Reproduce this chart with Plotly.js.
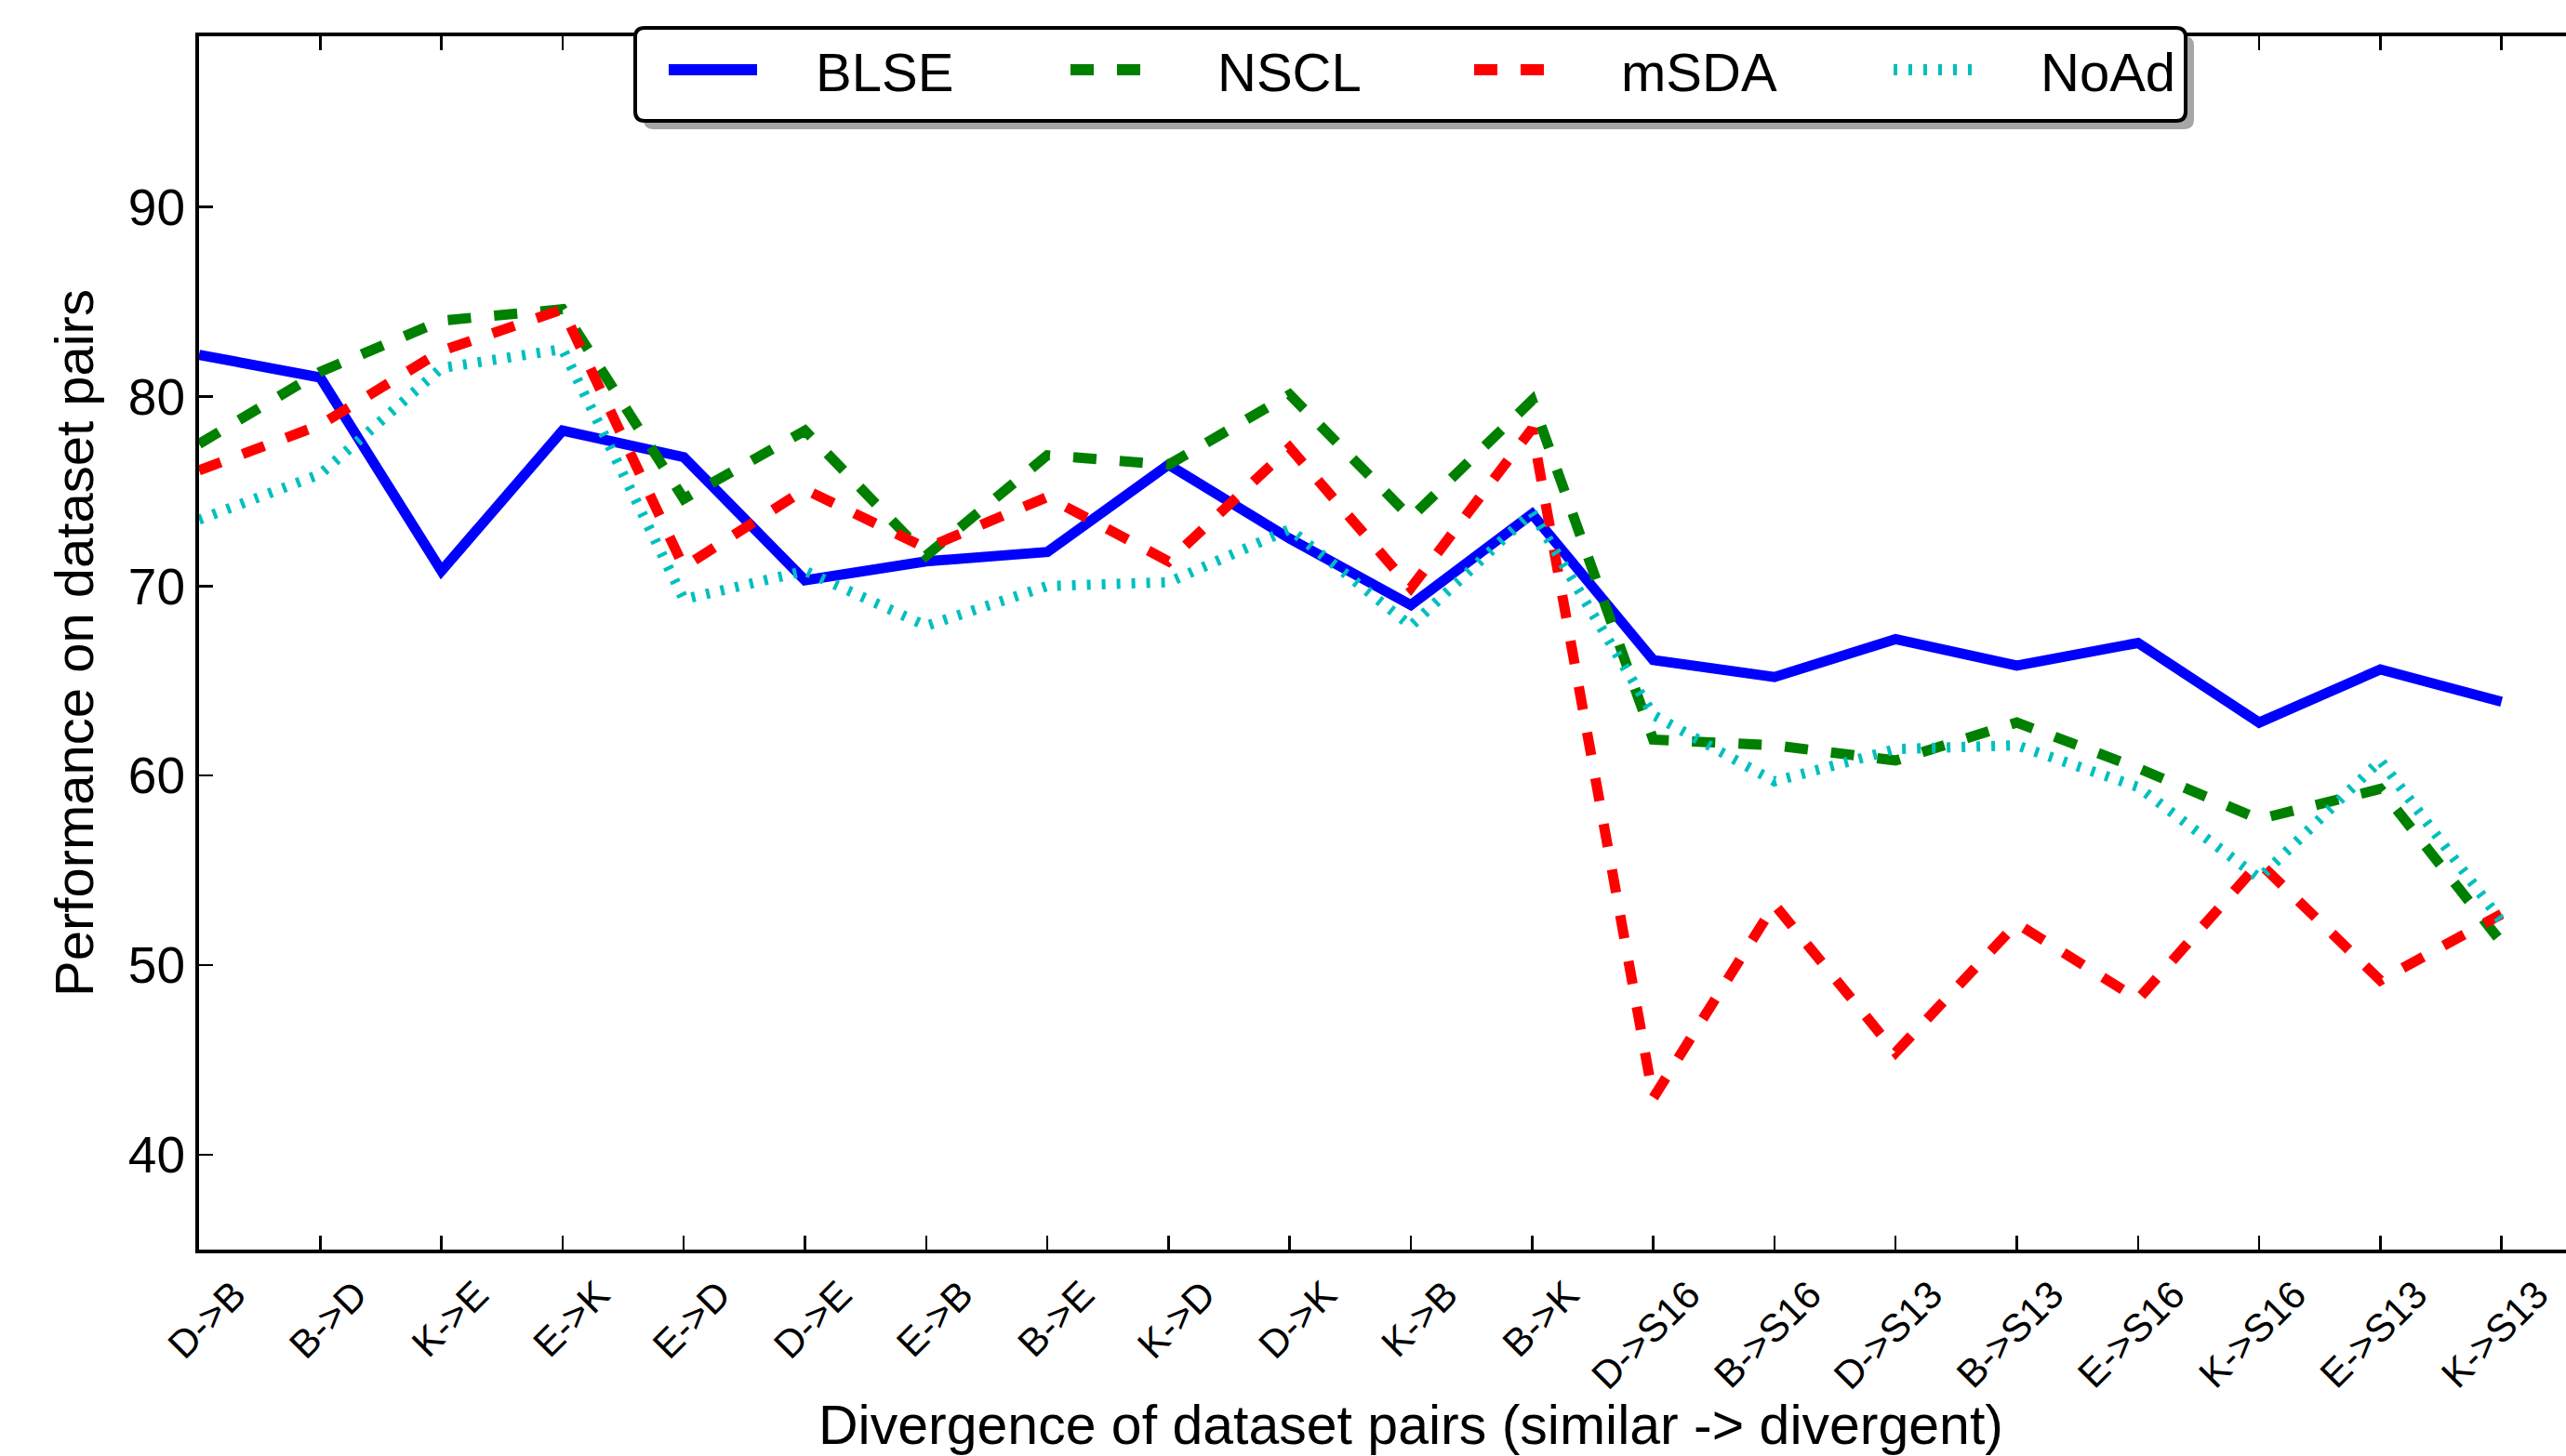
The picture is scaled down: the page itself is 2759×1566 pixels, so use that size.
<!DOCTYPE html>
<html>
<head>
<meta charset="utf-8">
<script src="https://cdn.plot.ly/plotly-3.0.1.min.js"></script>
<style>
  html, body { margin: 0; padding: 0; background: #ffffff; overflow: hidden; }
  #wrap { position: relative; width: 2759px; height: 1566px; overflow: hidden; }
  #chart { position: absolute; left: 0; top: 0; width: 2830px; height: 1566px; }
</style>
</head>
<body>
<div id="wrap"><div id="chart"></div></div>
<script>
// ---- data ----
const categories = ["D->B", "B->D", "K->E", "E->K", "E->D", "D->E", "E->B", "B->E", "K->D", "D->K",
                    "K->B", "B->K", "D->S16", "B->S16", "D->S13", "B->S13", "E->S16", "K->S16", "E->S13", "K->S13"];
const blse = [82.2, 81.0, 70.8, 78.2, 76.8, 70.3, 71.3, 71.8, 76.4, 72.5,
              69.0, 73.8, 66.1, 65.2, 67.2, 65.8, 67.0, 62.8, 65.6, 63.9];
const nscl = [77.5, 81.3, 84.0, 84.6, 74.6, 78.2, 71.6, 76.9, 76.4, 80.1,
              73.6, 79.8, 61.9, 61.6, 60.8, 62.8, 60.4, 57.7, 59.3, 51.2];
const msda = [76.1, 78.5, 82.4, 84.6, 71.0, 75.1, 72.0, 74.7, 71.3, 77.3,
              69.9, 78.3, 43.0, 53.2, 45.4, 52.2, 48.2, 55.4, 49.2, 52.7];
const noad = [73.5, 75.9, 81.5, 82.5, 69.3, 70.8, 67.9, 70.0, 70.2, 73.0,
              67.9, 73.9, 63.2, 59.7, 61.4, 61.6, 59.4, 54.6, 60.8, 52.3];
const seriesNames = ["BLSE", "NSCL", "mSDA", "NoAd"];
const yTicks = [40, 50, 60, 70, 80, 90];

const xIdx = categories.map((c, i) => i);
const FONT = "Liberation Sans, Arial, Helvetica, sans-serif";

const styles = [
  { color: "#0000ff", dash: "solid" },
  { color: "#008000", dash: "25px,25px" },
  { color: "#ff0000", dash: "25px,25px" },
  { color: "#00bfbf", dash: "4px,12px" }
];
const LW = 11;
const allValues = [blse, nscl, msda, noad];

const traces = allValues.map((vals, k) => ({
  type: "scatter", mode: "lines", name: seriesNames[k],
  x: xIdx, y: vals,
  line: { color: styles[k].color, width: LW, dash: styles[k].dash },
  hoverinfo: "skip", showlegend: false
}));

// plot area geometry (pixels); the axes box runs past the right edge of the page,
// as in the reference, where only the part up to x = 19.5 is visible
const W = 2830, H = 1566, ML = 214, MR = 10, MT = 39, MB = 222;
const PW = W - ML - MR, PH = H - MT - MB;
const px2x = p => (p - ML) / PW;
const py2y = p => (H - MB - p) / PH;

function roundRect(x0, y0, x1, y1, r) {
  // pixel coords -> paper path with rounded corners
  const X = p => px2x(p).toFixed(5), Y = p => py2y(p).toFixed(5);
  return "M" + X(x0 + r) + "," + Y(y0) +
         " L" + X(x1 - r) + "," + Y(y0) +
         " Q" + X(x1) + "," + Y(y0) + " " + X(x1) + "," + Y(y0 + r) +
         " L" + X(x1) + "," + Y(y1 - r) +
         " Q" + X(x1) + "," + Y(y1) + " " + X(x1 - r) + "," + Y(y1) +
         " L" + X(x0 + r) + "," + Y(y1) +
         " Q" + X(x0) + "," + Y(y1) + " " + X(x0) + "," + Y(y1 - r) +
         " L" + X(x0) + "," + Y(y0 + r) +
         " Q" + X(x0) + "," + Y(y0) + " " + X(x0 + r) + "," + Y(y0) + " Z";
}

// legend (drawn like the matplotlib legend: framed, rounded, with a shadow)
const LEG = { x0: 683, y0: 30, x1: 2350, y1: 130, shadow: 9, rowY: 75 };
const sampleStart = [719, 1151, 1585, 2036];
const sampleLen = 95;
const textGap = 156;

const shapes = [
  { type: "path", xref: "paper", yref: "paper", layer: "above",
    path: roundRect(LEG.x0 + LEG.shadow, LEG.y0 + LEG.shadow, LEG.x1 + LEG.shadow, LEG.y1 + LEG.shadow, 10),
    fillcolor: "#a6a6a6", line: { width: 0 } },
  { type: "path", xref: "paper", yref: "paper", layer: "above",
    path: roundRect(LEG.x0, LEG.y0, LEG.x1, LEG.y1, 10),
    fillcolor: "#ffffff", line: { color: "#000000", width: 4 } }
];
const annotations = [];
seriesNames.forEach((name, k) => {
  shapes.push({
    type: "line", xref: "paper", yref: "paper", layer: "above",
    x0: px2x(sampleStart[k]), x1: px2x(sampleStart[k] + sampleLen),
    y0: py2y(LEG.rowY), y1: py2y(LEG.rowY),
    line: { color: styles[k].color, width: 12, dash: styles[k].dash }
  });
  annotations.push({
    xref: "paper", yref: "paper",
    x: px2x(sampleStart[k] + textGap), y: py2y(LEG.rowY + 2),
    xanchor: "left", yanchor: "middle", showarrow: false,
    text: name, font: { family: FONT, size: 58, color: "#000000" }
  });
});

const layout = {
  width: W, height: H,
  margin: { l: ML, r: MR, t: MT, b: MB, pad: 0 },
  paper_bgcolor: "#ffffff", plot_bgcolor: "#ffffff",
  font: { family: FONT, color: "#000000", size: 42 },
  showlegend: false,
  xaxis: {
    range: [0, 20],
    tickmode: "array", tickvals: xIdx, ticktext: categories,
    tickangle: -45,
    tickfont: { family: FONT, size: 42, color: "#000000" },
    ticks: "inside", ticklen: 15, tickwidth: 2.5, tickcolor: "#000000",
    ticklabelshift: 38, ticklabelstandoff: 3,
    showline: true, linewidth: 4, linecolor: "#000000", mirror: "ticks",
    showgrid: false, zeroline: false, automargin: false,
    title: { text: "Divergence of dataset pairs (similar -> divergent)",
             font: { family: FONT, size: 59, color: "#000000" }, standoff: 20 }
  },
  yaxis: {
    range: [35, 99],
    tickmode: "array", tickvals: yTicks, ticktext: yTicks.map(String),
    tickfont: { family: FONT, size: 55, color: "#000000" },
    ticks: "inside", ticklen: 15, tickwidth: 2.5, tickcolor: "#000000",
    showline: true, linewidth: 4, linecolor: "#000000", mirror: "ticks",
    showgrid: false, zeroline: false, automargin: false,
    title: { text: "Performance on dataset pairs",
             font: { family: FONT, size: 58, color: "#000000" }, standoff: 20 }
  },
  shapes: shapes,
  annotations: annotations
};

Plotly.newPlot("chart", traces, layout, { staticPlot: true, displayModeBar: false });
</script>
</body>
</html>
